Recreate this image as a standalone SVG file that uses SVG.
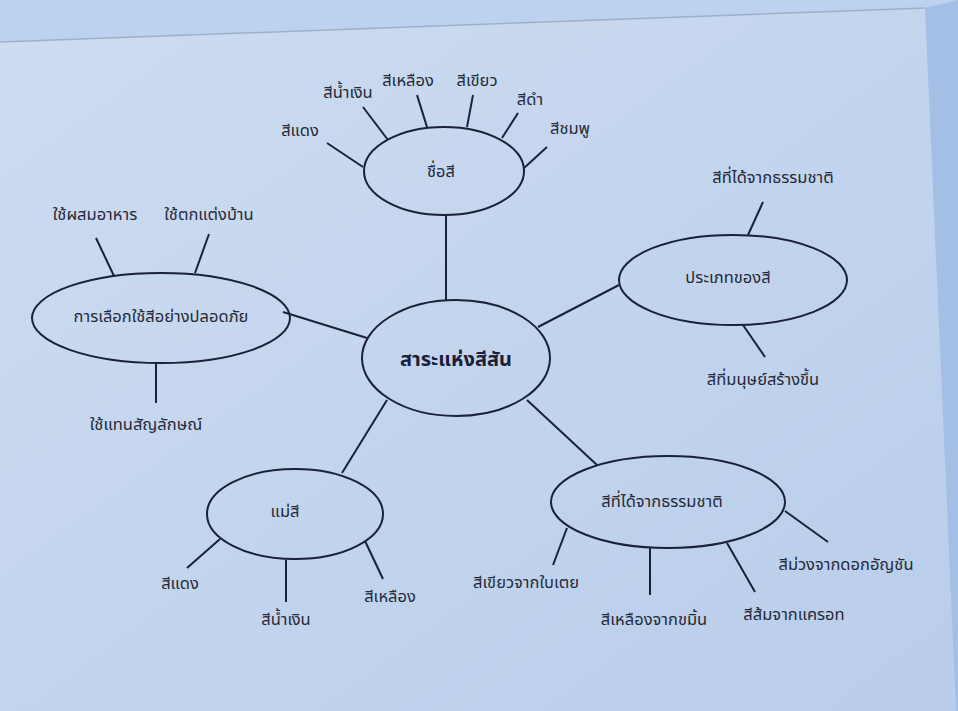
<svg xmlns="http://www.w3.org/2000/svg" width="958" height="711" viewBox="0 0 958 711">
<defs>
<linearGradient id="paper" x1="0" y1="0" x2="1" y2="1">
<stop offset="0" stop-color="#cddcf1"/>
<stop offset="1" stop-color="#b9cdea"/>
</linearGradient>
<style>
.n ellipse{fill:none;stroke:#1a2138;stroke-width:2}
.c line{stroke:#1a2138;stroke-width:2}
text{font-family:"Noto Sans Thai","Noto Sans","DejaVu Sans",sans-serif;font-size:16.5px;fill:#252a38;text-anchor:middle}
.main{font-size:20px;font-weight:bold;fill:#1a2138}
</style>
</defs>
<rect width="958" height="711" fill="#bcd2ee"/>
<polygon points="0,711 0,42 925,8 956,711" fill="url(#paper)"/>
<polygon points="925,8 958,0 958,711 956,711" fill="#a3bfe6"/>
<line x1="0" y1="42" x2="925" y2="8" stroke="#9eb0c8" stroke-width="1.5"/>

<g class="c" id="connectors">
<line x1="446" y1="300" x2="446" y2="215"/>
<line x1="367" y1="338" x2="283" y2="312"/>
<line x1="538" y1="327" x2="619" y2="285"/>
<line x1="387" y1="400" x2="342" y2="473"/>
<line x1="527" y1="400" x2="597" y2="465"/>
<line x1="327" y1="143" x2="363" y2="167"/>
<line x1="363" y1="107" x2="388" y2="140"/>
<line x1="417" y1="95" x2="427" y2="127"/>
<line x1="473" y1="95" x2="467" y2="127"/>
<line x1="518" y1="113" x2="502" y2="138"/>
<line x1="547" y1="147" x2="524" y2="168"/>
<line x1="96" y1="238" x2="114" y2="276"/>
<line x1="209" y1="234" x2="195" y2="273"/>
<line x1="156" y1="362" x2="156" y2="403"/>
<line x1="763" y1="202" x2="748" y2="235"/>
<line x1="743" y1="325" x2="765" y2="357"/>
<line x1="220" y1="539" x2="187" y2="568"/>
<line x1="286" y1="560" x2="286" y2="602"/>
<line x1="365" y1="541" x2="383" y2="579"/>
<line x1="567" y1="528" x2="553" y2="565"/>
<line x1="650" y1="548" x2="650" y2="595"/>
<line x1="727" y1="543" x2="755" y2="592"/>
<line x1="785" y1="511" x2="828" y2="542"/>
</g>

<g class="n" id="center"><ellipse cx="456" cy="358" rx="94" ry="58"/><text class="main" x="456" y="366">สาระแห่งสีสัน</text></g>
<g class="n" id="names"><ellipse cx="444" cy="171" rx="80" ry="44"/><text x="441" y="177">ชื่อสี</text></g>
<g class="n" id="safe"><ellipse cx="161" cy="318" rx="129" ry="45"/><text x="161" y="322">การเลือกใช้สีอย่างปลอดภัย</text></g>
<g class="n" id="types"><ellipse cx="733" cy="280" rx="114" ry="45"/><text x="728" y="283">ประเภทของสี</text></g>
<g class="n" id="primary"><ellipse cx="295" cy="514" rx="88" ry="45"/><text x="285" y="517">แม่สี</text></g>
<g class="n" id="natural"><ellipse cx="668" cy="502" rx="117" ry="46"/><text x="662" y="507">สีที่ได้จากธรรมชาติ</text></g>

<g id="n-red1"><text x="300" y="136">สีแดง</text></g>
<g id="n-blue1"><text x="348" y="98">สีน้ำเงิน</text></g>
<g id="n-yellow1"><text x="408" y="86">สีเหลือง</text></g>
<g id="n-green1"><text x="477" y="86">สีเขียว</text></g>
<g id="n-black"><text x="530" y="105">สีดำ</text></g>
<g id="n-pink"><text x="570" y="134">สีชมพู</text></g>
<g id="n-food"><text x="95" y="220">ใช้ผสมอาหาร</text></g>
<g id="n-decor"><text x="209" y="220">ใช้ตกแต่งบ้าน</text></g>
<g id="n-symbol"><text x="146" y="430">ใช้แทนสัญลักษณ์</text></g>
<g id="n-nat"><text x="773" y="183">สีที่ได้จากธรรมชาติ</text></g>
<g id="n-man"><text x="763" y="385">สีที่มนุษย์สร้างขึ้น</text></g>
<g id="n-red2"><text x="180" y="589">สีแดง</text></g>
<g id="n-blue2"><text x="286" y="625">สีน้ำเงิน</text></g>
<g id="n-yellow2"><text x="390" y="602">สีเหลือง</text></g>
<g id="n-pandan"><text x="526" y="588">สีเขียวจากใบเตย</text></g>
<g id="n-turmeric"><text x="654" y="625">สีเหลืองจากขมิ้น</text></g>
<g id="n-carrot"><text x="794" y="620">สีส้มจากแครอท</text></g>
<g id="n-pea"><text x="846" y="570">สีม่วงจากดอกอัญชัน</text></g>
</svg>
